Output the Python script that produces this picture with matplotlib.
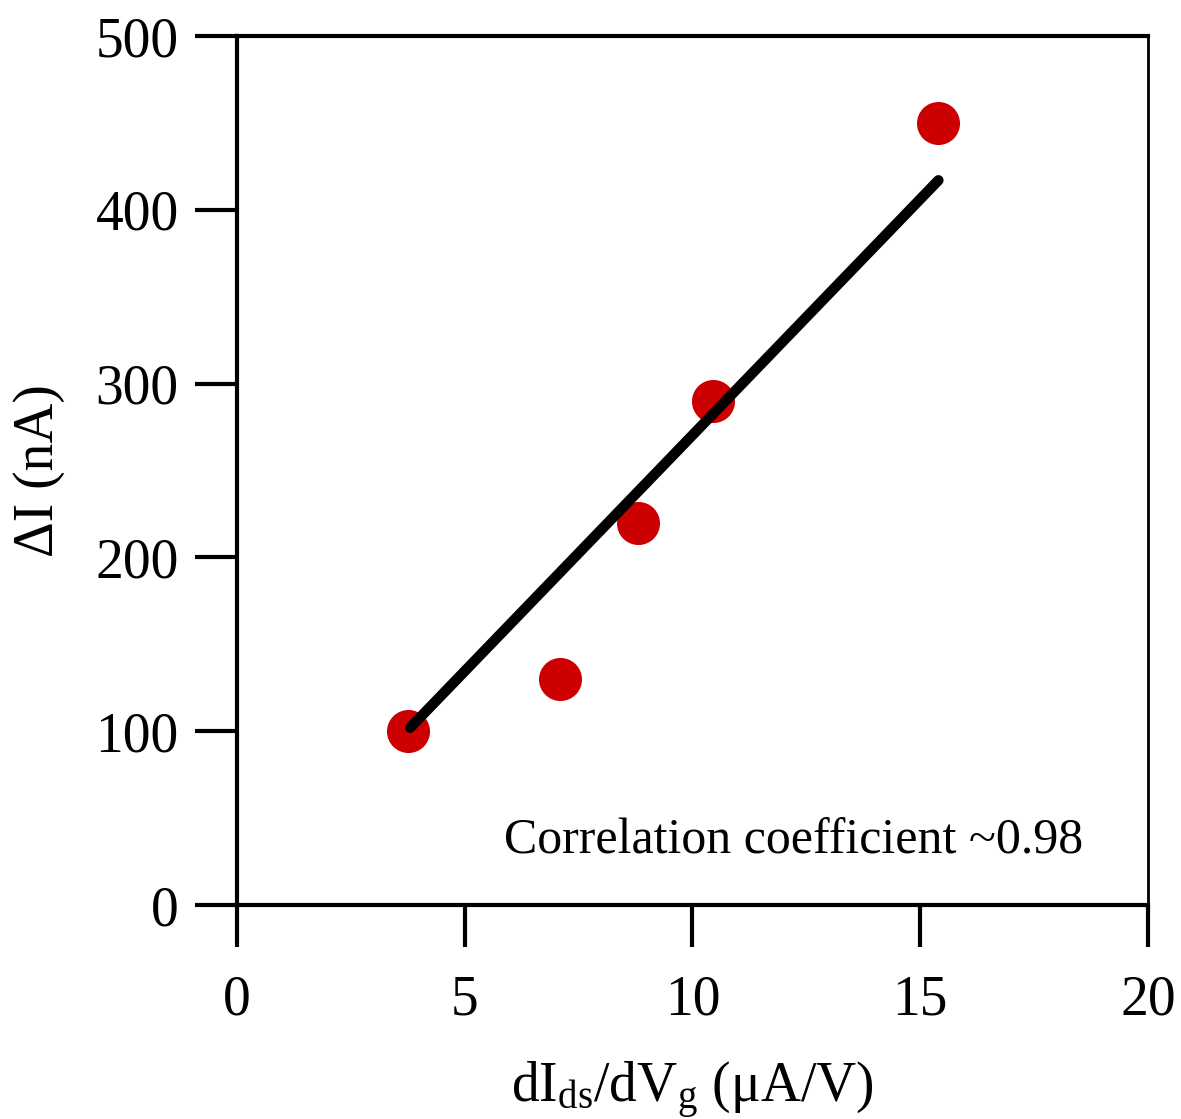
import matplotlib
matplotlib.use("Agg")
import matplotlib.pyplot as plt

# ---------- DATA ----------
slope_x = [3.75, 7.1, 8.8, 10.45, 15.4]     # dIds/dVg (uA/V)
delta_i = [100, 130, 220, 290, 450]          # delta I (nA)
fit_x = [3.8, 15.4]
fit_y = [102, 417]
x_ticks = [0, 5, 10, 15, 20]
y_ticks = [0, 100, 200, 300, 400, 500]
# --------------------------

plt.rcParams['font.family'] = ['Liberation Serif', 'DejaVu Serif']
plt.rcParams['mathtext.fontset'] = 'custom'
plt.rcParams['mathtext.rm'] = 'Liberation Serif'
plt.rcParams['mathtext.it'] = 'Liberation Serif:italic'

fig = plt.figure(figsize=(11.81, 11.19), dpi=100)
ax = fig.add_axes([0.2007, 0.1912, 0.7713, 0.7766])

ax.plot(slope_x, delta_i, 'o', color='#cc0000', markersize=31, markeredgewidth=0, zorder=2)
ax.plot(fit_x, fit_y, '-', color='black', lw=7.5, solid_capstyle='round', zorder=3)

ax.set_xlim(0, 20)
ax.set_ylim(0, 500)
ax.set_xticks(x_ticks)
ax.set_yticks(y_ticks)
ax.tick_params(direction='out', length=30, width=3, labelsize=40)
ax.tick_params(axis='y', pad=12)
ax.tick_params(axis='x', pad=20)
for side in ['left', 'bottom', 'top']:
    ax.spines[side].set_linewidth(3)
ax.spines['right'].set_linewidth(2)

ax.set_xlabel(r'dI$_\mathrm{ds}$/dV$_\mathrm{g}$ ($\mathrm{\mu}$A/V)', fontsize=40, labelpad=24)
ax.set_ylabel('ΔI (nA)', fontsize=40, labelpad=22)

ax.text(0.929, 0.047, 'Correlation coefficient ~0.98', transform=ax.transAxes,
        ha='right', va='bottom', fontsize=36)

fig.savefig('out.png', dpi=100)
